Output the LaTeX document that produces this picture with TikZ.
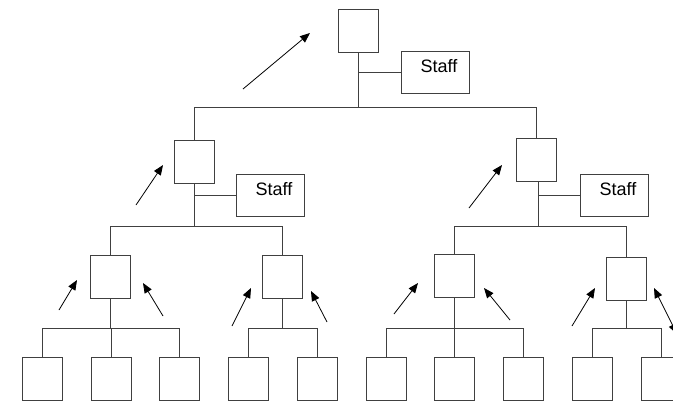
\documentclass[tikz,border=0pt]{standalone}
\usepackage{fontspec}
\setmainfont{Liberation Sans}
\usetikzlibrary{arrows.meta}
\begin{document}
\begin{tikzpicture}[x=1pt,y=-1pt,
  unit/.style={draw=black!75,line width=1pt,minimum width=40pt,minimum height=43pt,inner sep=0pt},
  staffbox/.style={draw=black!75,line width=1pt,minimum width=68pt,minimum height=42pt,inner sep=0pt},
  stafflbl/.style={font=\fontsize{18}{20}\selectfont},
  link/.style={draw=black!75,line width=1pt},
  hint/.style={draw=black,line width=0.8pt,-{Triangle[length=10pt,width=8pt]}},
  hint2/.style={draw=black,line width=0.8pt,{Triangle[length=10pt,width=8pt]}-{Triangle[length=10pt,width=8pt]}}]
\useasboundingbox (0,0) rectangle (673,402);
\clip (0,0) rectangle (673,402);
% boxes
\node[unit] (top) at (358,30.5) {};
\node[staffbox,label={[stafflbl,xshift=4pt,yshift=6pt]center:Staff}] (s0) at (435,72.5) {};
\node[unit] (m1) at (194,161.5) {};
\node[staffbox,label={[stafflbl,xshift=4pt,yshift=6pt]center:Staff}] (s1) at (270,195) {};
\node[unit] (m2) at (536,159.5) {};
\node[staffbox,label={[stafflbl,xshift=4pt,yshift=6pt]center:Staff}] (s2) at (614,195) {};
\node[unit] (g1) at (110.5,276.5) {};
\node[unit] (g2) at (282.5,276.5) {};
\node[unit] (g3) at (454.5,276) {};
\node[unit] (g4) at (626,278.5) {};
\node[unit] (l1) at (42,378.5) {};
\node[unit] (l2) at (111,378.5) {};
\node[unit] (l3) at (179.5,378.5) {};
\node[unit] (l4) at (248,378.5) {};
\node[unit] (l5) at (317,378.5) {};
\node[unit] (l6) at (386,378.5) {};
\node[unit] (l7) at (454.5,378.5) {};
\node[unit] (l8) at (523,378.5) {};
\node[unit] (l9) at (592,378.5) {};
\node[unit] (l10) at (661,378.5) {};
% level 0
\draw[link] (top.south) -- (top.south |- 0,107);
\draw[link] (top.south |- s0.west) -- (s0.west);
\draw[link] (m1.north) -- (m1.north |- 0,107) -- (m2.north |- 0,107) -- (m2.north);
% level 1 left
\draw[link] (m1.south) -- (m1.south |- 0,226);
\draw[link] (m1.south |- s1.west) -- (s1.west);
\draw[link] (g1.north) -- (g1.north |- 0,226) -- (g2.north |- 0,226) -- (g2.north);
% level 1 right
\draw[link] ([xshift=2pt]m2.south) -- ([xshift=2pt]m2.south |- 0,226);
\draw[link] ([xshift=2pt]m2.south |- s2.west) -- (s2.west);
\draw[link] (g3.north) -- (g3.north |- 0,226) -- (g4.north |- 0,226) -- (g4.north);
% level 2
\draw[link] (g1.south) -- (g1.south |- 0,328);
\draw[link] (l1.north) -- (l1.north |- 0,328) -- (l3.north |- 0,328) -- (l3.north);
\draw[link] (l2.north) -- (l2.north |- 0,328);
\draw[link] (g2.south) -- (g2.south |- 0,328);
\draw[link] (l4.north) -- (l4.north |- 0,328) -- (l5.north |- 0,328) -- (l5.north);
\draw[link] (g3.south) -- (g3.south |- 0,328);
\draw[link] (l6.north) -- (l6.north |- 0,328) -- (l8.north |- 0,328) -- (l8.north);
\draw[link] (l7.north) -- (l7.north |- 0,328);
\draw[link] (g4.south) -- (g4.south |- 0,328);
\draw[link] (l9.north) -- (l9.north |- 0,328) -- (l10.north |- 0,328) -- (l10.north);
% arrows
\coordinate (a0s) at (243,89);  \coordinate (a0e) at (310,33);
\coordinate (a1s) at (136,205); \coordinate (a1e) at (163,165);
\coordinate (a2s) at (469,208); \coordinate (a2e) at (502,165);
\coordinate (b1s) at (59,310);  \coordinate (b1e) at (77,280);
\coordinate (b2s) at (163,316); \coordinate (b2e) at (143,283);
\coordinate (b3s) at (232,326); \coordinate (b3e) at (251,288);
\coordinate (b4s) at (327,322); \coordinate (b4e) at (311,291);
\coordinate (b5s) at (394,314); \coordinate (b5e) at (418,283);
\coordinate (b6s) at (510,320); \coordinate (b6e) at (484,288);
\coordinate (b7s) at (572,326); \coordinate (b7e) at (595,288);
\coordinate (b8s) at (654,288); \coordinate (b8e) at (677,334);
\draw[hint] (a0s) -- (a0e);
\draw[hint] (a1s) -- (a1e);
\draw[hint] (a2s) -- (a2e);
\draw[hint] (b1s) -- (b1e);
\draw[hint] (b2s) -- (b2e);
\draw[hint] (b3s) -- (b3e);
\draw[hint] (b4s) -- (b4e);
\draw[hint] (b5s) -- (b5e);
\draw[hint] (b6s) -- (b6e);
\draw[hint] (b7s) -- (b7e);
\draw[hint2] (b8s) -- (b8e);
\end{tikzpicture}
\end{document}
